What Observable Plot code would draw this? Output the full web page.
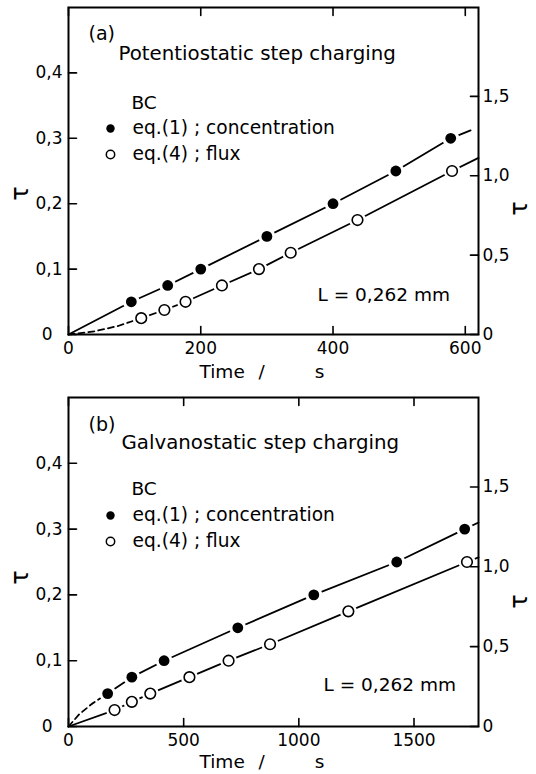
<!DOCTYPE html>
<html><head><meta charset="utf-8">
<script src="https://cdn.jsdelivr.net/npm/d3@7"></script>
<script src="https://cdn.jsdelivr.net/npm/@observablehq/plot@0.6"></script>
<style>
html,body{margin:0;padding:0;background:#fff;}
#chart svg{display:block;}
</style></head><body><div id="chart"></div>
<script>
// ---------- Panel (a): potentiostatic step charging ----------
const aConcTime = [95, 150, 200, 300, 400, 495, 578];
const aConcTau  = [0.05, 0.075, 0.1, 0.15, 0.2, 0.25, 0.3];
const aFluxTime = [110, 145, 177, 232, 288, 336, 437, 580];
const aFluxTau  = [0.025, 0.0375, 0.05, 0.075, 0.1, 0.125, 0.175, 0.25];
const aConcLineTime = [0, 95, 150, 200, 300, 400, 495, 578, 608];
const aConcLineTau  = [0, 0.05, 0.075, 0.1, 0.15, 0.2, 0.25, 0.3, 0.312];
const aConcDashTime = [];
const aConcDashTau  = [];
const aFluxLineTime = [110, 145, 177, 232, 288, 336, 437, 580, 620];
const aFluxLineTau  = [0.025, 0.0375, 0.05, 0.075, 0.1, 0.125, 0.175, 0.25, 0.27];
const aFluxDashTime = [0, 40, 75, 110];
const aFluxDashTau  = [0, 0.005, 0.013, 0.025];
const aTimeTicks = [0, 200, 400, 600];
const aTimeMax = 620;

// ---------- Panel (b): galvanostatic step charging ----------
const bConcTime = [170, 275, 415, 735, 1065, 1425, 1720];
const bConcTau  = [0.05, 0.075, 0.1, 0.15, 0.2, 0.25, 0.3];
const bFluxTime = [200, 275, 355, 525, 695, 875, 1215, 1730];
const bFluxTau  = [0.025, 0.0375, 0.05, 0.075, 0.1, 0.125, 0.175, 0.25];
const bConcLineTime = [170, 275, 415, 735, 1065, 1425, 1720, 1780];
const bConcLineTau  = [0.05, 0.075, 0.1, 0.15, 0.2, 0.25, 0.3, 0.31];
const bConcDashTime = [0, 45, 100, 170];
const bConcDashTau  = [0, 0.018, 0.034, 0.05];
const bFluxLineTime = [0, 200, 275, 355, 525, 695, 875, 1215, 1730, 1780];
const bFluxLineTau  = [0, 0.025, 0.0375, 0.05, 0.075, 0.1, 0.125, 0.175, 0.25, 0.257];
const bFluxDashTime = [];
const bFluxDashTau  = [];
const bTimeTicks = [0, 500, 1000, 1500];
const bTimeMax = 1780;

// ---------- shared ----------
const leftTicks = [0, 0.1, 0.2, 0.3, 0.4];
const rightTicks = [0, 0.5, 1.0, 1.5];
const rightPerLeft = 4.12;          // right-hand τ scale relative to left-hand τ
const tauMax = 0.5;
const panelTags = ["(a)", "(b)"];
const panelTitles = ["Potentiostatic step charging", "Galvanostatic step charging"];
const legendHeader = ["BC"];
const legendLabels = ["eq.(1) ; concentration", "eq.(4) ; flux"];
const thicknessNote = ["L = 0,262 mm"];
const xLabelParts = ["Time", "/", "s"];
const yLabel = ["τ"];

const FONT = "DejaVu Sans";
const fmt = d => d === 0 ? "0" : d.toFixed(1).replace(".", ",");
const pts = (t, v) => t.map((x, i) => ({t: x, v: v[i]}));
const tickShape = {draw(ctx, l) { ctx.moveTo(0, 0); ctx.lineTo(0, -l); }};
const TL = 8, TW = 1.6;

function panel(p) {
  const conc = pts(p.concT, p.concV), flux = pts(p.fluxT, p.fluxV);
  const lw = 1.8;
  const rightPos = rightTicks.map(r => r / rightPerLeft);
  const leftNonZero = leftTicks.filter(d => d !== 0);
  const leftZero = leftTicks.filter(d => d === 0);
  const marks = [
    Plot.line(pts(p.concLineT, p.concLineV), {x: "t", y: "v", stroke: "black", strokeWidth: lw}),
    Plot.line(pts(p.fluxLineT, p.fluxLineV), {x: "t", y: "v", stroke: "black", strokeWidth: lw}),
    Plot.line(pts(p.concDashT, p.concDashV), {x: "t", y: "v", stroke: "black", strokeWidth: lw, strokeDasharray: "6,4"}),
    Plot.line(pts(p.fluxDashT, p.fluxDashV), {x: "t", y: "v", stroke: "black", strokeWidth: lw, strokeDasharray: "6,4"}),
    // white halos -> gaps in the lines around the markers
    Plot.dot(conc, {x: "t", y: "v", r: 8.5, fill: "white"}),
    Plot.dot(flux, {x: "t", y: "v", r: 8.5, fill: "white"}),
    Plot.dot(conc, {x: "t", y: "v", r: 5.4, fill: "black"}),
    Plot.dot(flux, {x: "t", y: "v", r: 5.3, fill: "white", stroke: "black", strokeWidth: 1.6}),
    Plot.frame({stroke: "black", strokeWidth: 2}),
    // inward ticks
    Plot.vector(p.timeTicks, {x: d => d, frameAnchor: "bottom", rotate: 0, length: TL, anchor: "start", shape: tickShape, stroke: "black", strokeWidth: TW}),
    Plot.vector(p.timeTicks, {x: d => d, frameAnchor: "top", rotate: 180, length: TL, anchor: "start", shape: tickShape, stroke: "black", strokeWidth: TW}),
    Plot.vector(leftTicks, {y: d => d, frameAnchor: "left", rotate: 90, length: TL, anchor: "start", shape: tickShape, stroke: "black", strokeWidth: TW}),
    Plot.vector(rightPos, {y: d => d, frameAnchor: "right", rotate: -90, length: TL, anchor: "start", shape: tickShape, stroke: "black", strokeWidth: TW}),
    // tick labels
    Plot.axisX(p.timeTicks, {anchor: "bottom", tickSize: 0, tickPadding: 7, tickFormat: d => String(d), fontSize: 17, label: null}),
    Plot.axisY(leftNonZero, {anchor: "left", tickSize: 0, tickPadding: 6, tickFormat: fmt, fontSize: 17, label: null}),
    Plot.axisY(leftZero, {anchor: "left", tickSize: 0, tickPadding: 16, tickFormat: fmt, fontSize: 17, label: null}),
    Plot.axisY(rightPos, {anchor: "right", tickSize: 0, tickPadding: 4,
      tickFormat: d => fmt(Math.round(d * rightPerLeft * 10) / 10), fontSize: 17, label: null}),
    // in-plot annotations
    Plot.text([p.tag], {frameAnchor: "top-left", textAnchor: "start", lineAnchor: "middle", dx: 20, dy: p.tagDy, fontSize: 19}),
    Plot.text([p.title], {frameAnchor: "top-left", textAnchor: "start", lineAnchor: "middle", dx: p.titleDx, dy: p.titleDy, fontSize: 19.8}),
    Plot.text(legendHeader, {frameAnchor: "top-left", textAnchor: "start", lineAnchor: "middle", dx: 63, dy: p.bcDy, fontSize: 18.5}),
    Plot.dot([legendLabels[0]], {x: null, y: null, frameAnchor: "top-left", dx: 42, dy: p.leg1Dy, r: 4.2, fill: "black"}),
    Plot.text([legendLabels[0]], {frameAnchor: "top-left", textAnchor: "start", lineAnchor: "middle", dx: 64, dy: p.leg1Dy, fontSize: 18.6}),
    Plot.dot([legendLabels[1]], {x: null, y: null, frameAnchor: "top-left", dx: 42, dy: p.leg2Dy, r: 4.2, fill: "white", stroke: "black", strokeWidth: 1.5}),
    Plot.text([legendLabels[1]], {frameAnchor: "top-left", textAnchor: "start", lineAnchor: "middle", dx: 64, dy: p.leg2Dy, fontSize: 18.6}),
    Plot.text(thicknessNote, {frameAnchor: "top-left", textAnchor: "start", lineAnchor: "middle", dx: p.noteDx, dy: p.noteDy, fontSize: 18.5}),
    // axis titles
    Plot.text([xLabelParts[0]], {frameAnchor: "bottom-left", textAnchor: "start", lineAnchor: "middle", dx: 131, dy: p.xLabDy, fontSize: 18.5}),
    Plot.text([xLabelParts[1]], {frameAnchor: "bottom-left", textAnchor: "middle", lineAnchor: "middle", dx: 193, dy: p.xLabDy, fontSize: 18.5}),
    Plot.text([xLabelParts[2]], {frameAnchor: "bottom-left", textAnchor: "middle", lineAnchor: "middle", dx: 251, dy: p.xLabDy, fontSize: 18.5}),
    Plot.text(yLabel, {frameAnchor: "top-left", textAnchor: "middle", lineAnchor: "middle", dx: -48, dy: p.yLabDy, rotate: -90, fontSize: 24}),
    Plot.text(yLabel, {frameAnchor: "top-right", textAnchor: "middle", lineAnchor: "middle", dx: 41, dy: p.yLabRDy, rotate: -90, fontSize: 24})
  ];
  return Plot.plot({
    width: 536, height: 387,
    marginTop: p.mt, marginBottom: p.mb, marginLeft: 68, marginRight: 58,
    style: {fontFamily: FONT, fontSize: "17px", color: "black", background: "white", overflow: "visible"},
    x: {domain: [0, p.tMax], axis: null},
    y: {domain: [0, tauMax], axis: null},
    marks
  });
}

const chart = document.getElementById("chart");
chart.appendChild(panel({
  concT: aConcTime, concV: aConcTau, fluxT: aFluxTime, fluxV: aFluxTau,
  concLineT: aConcLineTime, concLineV: aConcLineTau, fluxLineT: aFluxLineTime, fluxLineV: aFluxLineTau,
  concDashT: aConcDashTime, concDashV: aConcDashTau, fluxDashT: aFluxDashTime, fluxDashV: aFluxDashTau,
  timeTicks: aTimeTicks, tMax: aTimeMax, tag: panelTags[0], title: panelTitles[0],
  mt: 7, mb: 53, tagDy: 26, titleDx: 50, titleDy: 46, bcDy: 96, leg1Dy: 121, leg2Dy: 147,
  noteDx: 249, noteDy: 288, yLabDy: 186, yLabRDy: 201, xLabDy: 38
}));
chart.appendChild(panel({
  concT: bConcTime, concV: bConcTau, fluxT: bFluxTime, fluxV: bFluxTau,
  concLineT: bConcLineTime, concLineV: bConcLineTau, fluxLineT: bFluxLineTime, fluxLineV: bFluxLineTau,
  concDashT: bConcDashTime, concDashV: bConcDashTau, fluxDashT: bFluxDashTime, fluxDashV: bFluxDashTau,
  timeTicks: bTimeTicks, tMax: bTimeMax, tag: panelTags[1], title: panelTitles[1],
  mt: 10, mb: 48, tagDy: 27, titleDx: 53, titleDy: 45, bcDy: 92, leg1Dy: 118, leg2Dy: 144,
  noteDx: 255, noteDy: 288, yLabDy: 180, yLabRDy: 204, xLabDy: 36
}));
</script></body></html>
